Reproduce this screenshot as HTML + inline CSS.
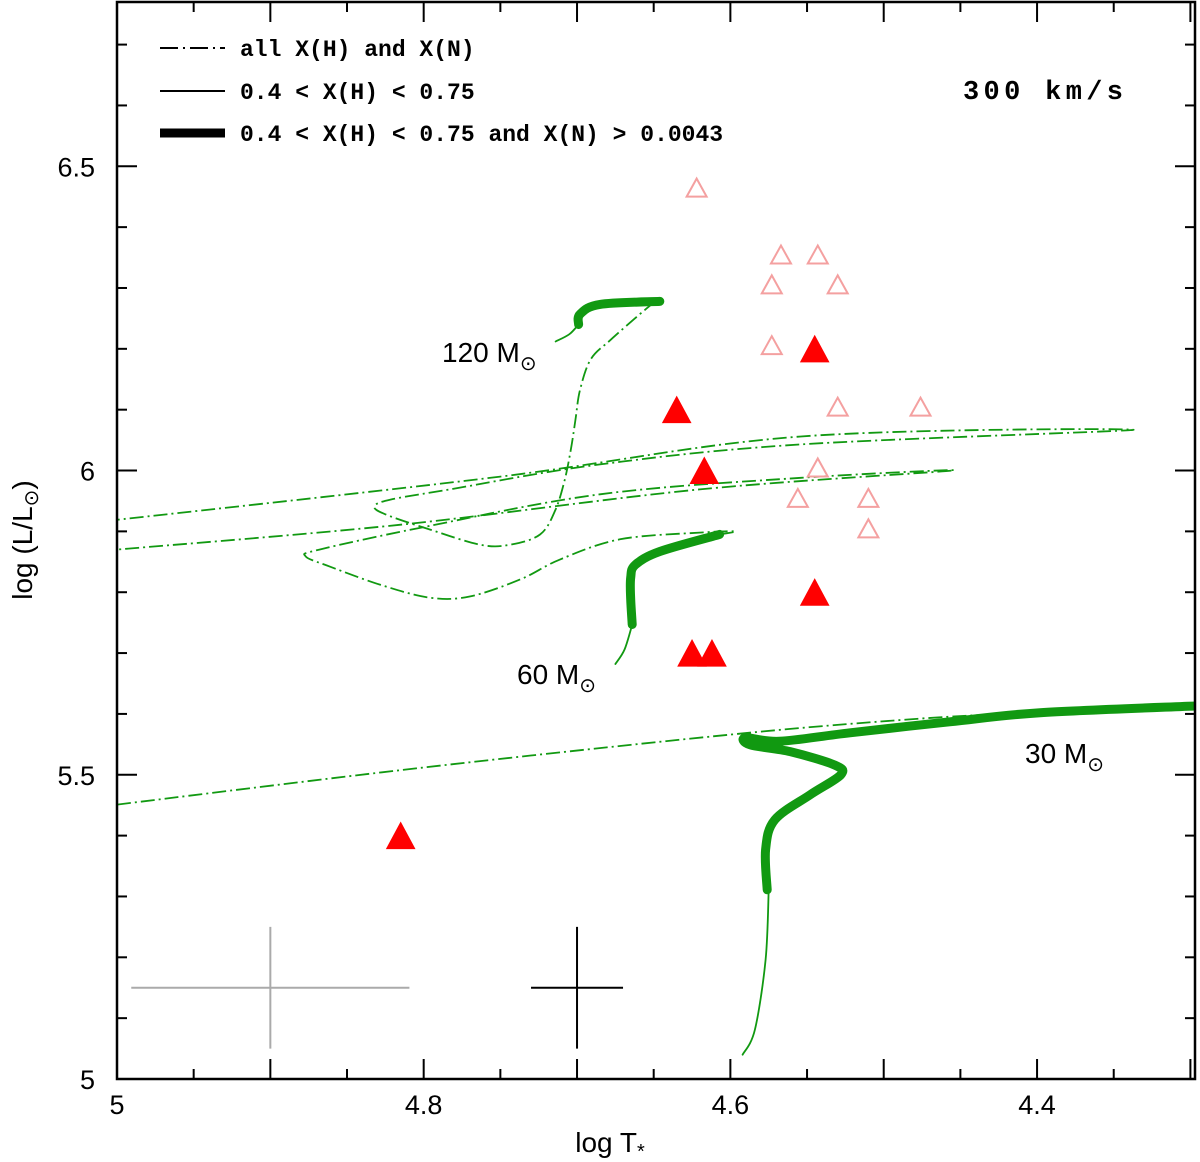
<!DOCTYPE html>
<html><head><meta charset="utf-8"><style>
html,body{margin:0;padding:0;background:#fff;}
svg{display:block;}
text{font-family:"Liberation Sans",sans-serif;fill:#000;}
.mono{font-family:"Liberation Mono",monospace;font-weight:bold;}
</style></head><body>
<svg id="chart" width="1200" height="1162" viewBox="0 0 1200 1162" xmlns="http://www.w3.org/2000/svg">
<rect x="0" y="0" width="1200" height="1162" fill="#fff"/>
<g id="tracks"></g>
<g id="marks"></g>
<g id="axes"></g>
<g>
  <line x1="160" y1="48" x2="225" y2="48" stroke="#000" stroke-width="2" stroke-dasharray="18,5,2,5"/>
  <text class="mono" x="240" y="56" font-size="23">all X(H) and X(N)</text>
  <line x1="160" y1="91" x2="225" y2="91" stroke="#000" stroke-width="2"/>
  <text class="mono" x="240" y="99" font-size="23">0.4 &lt; X(H) &lt; 0.75</text>
  <line x1="160" y1="133" x2="225" y2="133" stroke="#000" stroke-width="9"/>
  <text class="mono" x="240" y="141" font-size="23">0.4 &lt; X(H) &lt; 0.75 and X(N) &gt; 0.0043</text>
</g>
<text class="mono" x="963" y="99" font-size="27" textLength="160">300 km/s</text>
<text x="442" y="362" font-size="28">120 M<tspan font-size="20" dy="8">⊙</tspan></text>
<text x="517" y="684" font-size="28">60 M<tspan font-size="20" dy="8">⊙</tspan></text>
<text x="1025" y="763" font-size="28">30 M<tspan font-size="20" dy="8">⊙</tspan></text>
<text x="610" y="1152" font-size="28" text-anchor="middle">log T<tspan font-size="20" dy="6">*</tspan></text>
<text transform="translate(32,540) rotate(-90)" font-size="28" text-anchor="middle">log (L/L<tspan font-size="20" dy="6">⊙</tspan><tspan dy="-6">)</tspan></text>
</svg>
<script>
const xMin=5.0, xMax=4.297, yMin=5.0, yMax=6.77;
const X0=117, X1=1195, Y0=1079, Y1=2;
const xTickLabels=["5","4.8","4.6","4.4"];
const xTickValues=[5.0,4.8,4.6,4.4];
const yTickLabels=["5","5.5","6","6.5"];
const yTickValues=[5.0,5.5,6.0,6.5];
const filledT=[4.815,4.635,4.617,4.625,4.612,4.545,4.545];
const filledL=[5.40,6.10,6.00,5.70,5.70,6.20,5.80];
const openT=[4.622,4.567,4.543,4.573,4.530,4.573,4.530,4.476,4.543,4.556,4.510,4.510];
const openL=[6.465,6.355,6.355,6.306,6.306,6.206,6.105,6.105,6.005,5.955,5.955,5.905];
const t30thin=[[4.592,5.040],[4.584,5.081],[4.577,5.196],[4.575,5.311]];
const t30thick=[[4.576,5.311],[4.577,5.377],[4.571,5.426],[4.548,5.467],[4.528,5.500],[4.532,5.516],[4.561,5.538],[4.587,5.549],[4.590,5.561],[4.568,5.555],[4.522,5.569],[4.457,5.587],[4.398,5.602],[4.297,5.613]];
const t30dd=[[5.0,5.451],[4.800,5.512],[4.600,5.566],[4.489,5.590],[4.424,5.600]];
const t60thin=[[4.675,5.682],[4.669,5.706],[4.664,5.747]];
const t60thick=[[4.664,5.747],[4.665,5.788],[4.665,5.824],[4.662,5.845],[4.646,5.867],[4.607,5.895]];
const t60dd=[[4.607,5.895],[4.597,5.900],[4.620,5.898],[4.672,5.887],[4.711,5.854],[4.737,5.821],[4.770,5.793],[4.796,5.791],[4.828,5.812],[4.861,5.842],[4.877,5.859],[4.868,5.870],[4.802,5.906],[4.685,5.961],[4.554,5.988],[4.455,6.000],[4.620,5.969],[4.815,5.911],[5.0,5.870]];
const t120thin=[[4.714,6.212],[4.705,6.224],[4.699,6.240]];
const t120thick=[[4.699,6.240],[4.698,6.257],[4.685,6.273],[4.646,6.278]];
const t120dd=[[4.649,6.278],[4.659,6.257],[4.678,6.215],[4.691,6.183],[4.698,6.133],[4.701,6.084],[4.704,6.035],[4.708,5.985],[4.714,5.936],[4.724,5.895],[4.744,5.878],[4.763,5.878],[4.796,5.903],[4.825,5.928],[4.832,5.941],[4.822,5.952],[4.783,5.969],[4.685,6.010],[4.554,6.043],[4.337,6.067],[4.554,6.056],[4.750,5.990],[5.0,5.919]];
const errT=[4.90,4.70], errL=[5.15,5.15], errDT=[0.0907,0.030], errDL=[0.10,0.10];
const errColor=["#aaaaaa","#000000"];

const NS="http://www.w3.org/2000/svg";
const sx=v=>X0+(v-xMin)/(xMax-xMin)*(X1-X0);
const sy=v=>Y0+(v-yMin)/(yMax-yMin)*(Y1-Y0);
function mk(tag,attrs,parent){const e=document.createElementNS(NS,tag);for(const k in attrs)e.setAttribute(k,attrs[k]);parent.appendChild(e);return e;}
const tracks=document.getElementById('tracks'), marks=document.getElementById('marks'), axes=document.getElementById('axes');
const clip=mk('clipPath',{id:'pc'},document.getElementById('chart'));
mk('rect',{x:X0,y:Y1,width:X1-X0,height:Y0-Y1},clip);
tracks.setAttribute('clip-path','url(#pc)');
function smooth(pts){
  const p=pts.map(q=>[sx(q[0]),sy(q[1])]);
  let d='M'+p[0][0].toFixed(1)+','+p[0][1].toFixed(1);
  for(let i=0;i<p.length-1;i++){
    const p0=p[Math.max(0,i-1)],p1=p[i],p2=p[i+1],p3=p[Math.min(p.length-1,i+2)];
    const c1=[p1[0]+(p2[0]-p0[0])/6,p1[1]+(p2[1]-p0[1])/6];
    const c2=[p2[0]-(p3[0]-p1[0])/6,p2[1]-(p3[1]-p1[1])/6];
    d+=` C${c1[0].toFixed(1)},${c1[1].toFixed(1)} ${c2[0].toFixed(1)},${c2[1].toFixed(1)} ${p2[0].toFixed(1)},${p2[1].toFixed(1)}`;
  }
  return d;
}
function track(pts,style,name){
  const attrs={d:smooth(pts),fill:'none',stroke:'#119911','stroke-linejoin':'round','stroke-linecap':'round'};
  if(style==='dd'){attrs['stroke-width']=1.8;attrs['stroke-dasharray']='14,4,2,4';attrs['stroke-linecap']='butt';}
  else if(style==='thin'){attrs['stroke-width']=1.8;}
  else {attrs['stroke-width']=9;}
  const e=mk('path',attrs,tracks);
  
  
}
track(t30dd,'dd','track-30-dashdot');track(t30thin,'thin','track-30-thin');track(t30thick,'thick','track-30-thick');
track(t60dd,'dd','track-60-dashdot');track(t60thin,'thin','track-60-thin');track(t60thick,'thick','track-60-thick');
track(t120dd,'dd','track-120-dashdot');track(t120thin,'thin','track-120-thin');track(t120thick,'thick','track-120-thick');

function tri(t,l,filled,name){
  const cx=sx(t),cy=sy(l),w=filled?14:10,h=filled?13:9;
  const e=mk('polygon',{points:`${cx-w},${cy+h} ${cx+w},${cy+h} ${cx},${cy-h}`,fill:filled?'#ff0000':'none',stroke:filled?'#ff0000':'#f4a0a0','stroke-width':filled?1:2},marks);
  
  
}
openT.forEach((t,i)=>tri(t,openL[i],false,'open-triangle'));
filledT.forEach((t,i)=>tri(t,filledL[i],true,'filled-triangle'));
errT.forEach((t,i)=>{
  const h=mk('line',{x1:sx(t-errDT[i]),x2:sx(t+errDT[i]),y1:sy(errL[i]),y2:sy(errL[i]),stroke:errColor[i],'stroke-width':2},marks);
  
  
  const v=mk('line',{x1:sx(t),x2:sx(t),y1:sy(errL[i]-errDL[i]),y2:sy(errL[i]+errDL[i]),stroke:errColor[i],'stroke-width':2},marks);
  
  
});
const fr=mk('rect',{x:X0,y:Y1,width:X1-X0,height:Y0-Y1,fill:'none',stroke:'#000','stroke-width':2.5},axes);


for(let k=0;k<=14;k++){
  const v=5-k*0.05; const x=sx(v); if(x>X1)break;
  const major=Math.abs(v*10-Math.round(v*10))<1e-6; const len=major?20:10;
  const t1=mk('line',{x1:x,x2:x,y1:Y0,y2:Y0-len,stroke:'#000','stroke-width':2},axes);
  
  
  const t2=mk('line',{x1:x,x2:x,y1:Y1,y2:Y1+len,stroke:'#000','stroke-width':2},axes);
  
  
}
xTickValues.forEach((v,i)=>{
  const e=mk('text',{x:sx(v),y:Y0+35,'text-anchor':'middle','font-size':27},axes);
  e.textContent=xTickLabels[i];
  
  
});
for(let k=0;k<=17;k++){
  const v=5+k*0.1; const y=sy(v); if(y<Y1)break;
  const major=Math.abs(v*2-Math.round(v*2))<1e-6; const len=major?20:10;
  const t1=mk('line',{x1:X0,x2:X0+len,y1:y,y2:y,stroke:'#000','stroke-width':2},axes);
  
  
  const t2=mk('line',{x1:X1,x2:X1-len,y1:y,y2:y,stroke:'#000','stroke-width':2},axes);
  
  
}
yTickValues.forEach((v,i)=>{
  const e=mk('text',{x:X0-22,y:sy(v)+10,'text-anchor':'end','font-size':27},axes);
  e.textContent=yTickLabels[i];
  
  
});
</script>
</body></html>
